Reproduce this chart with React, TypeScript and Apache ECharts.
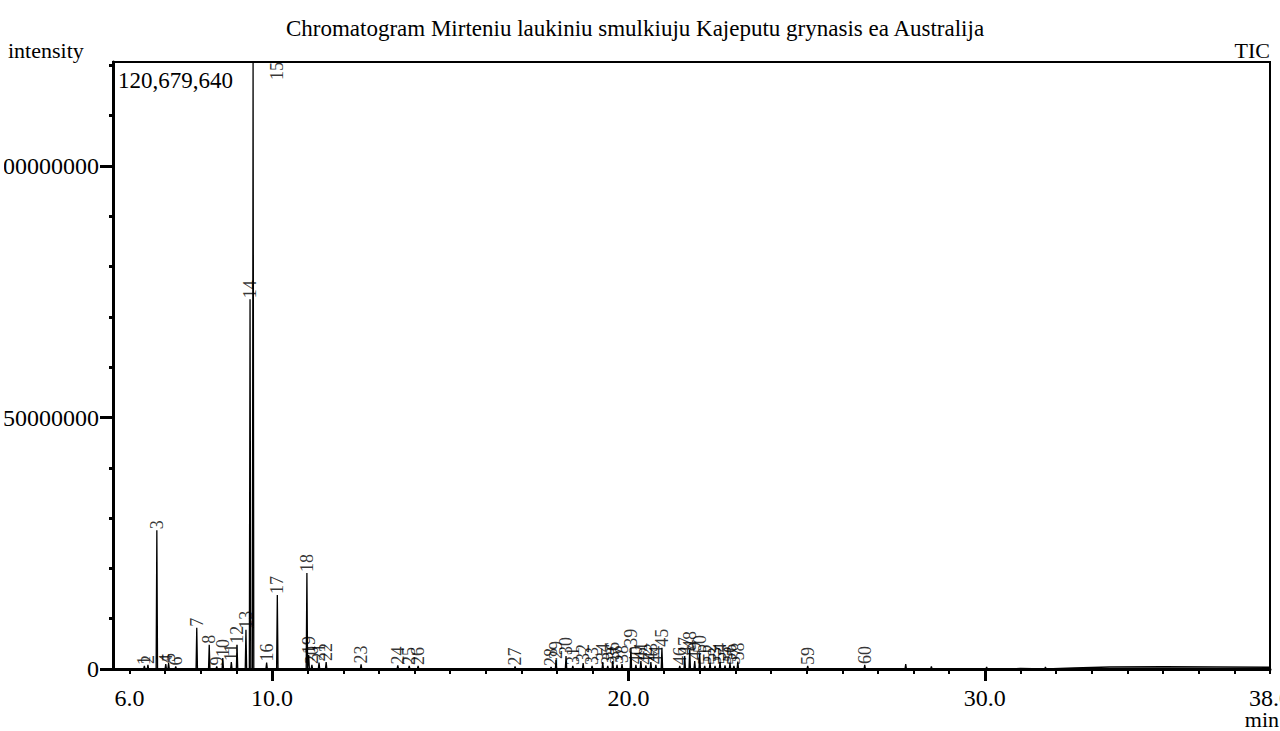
import React, { useEffect, useRef } from "react";
import * as echarts from "echarts";

// ---- data ----
const peakNumbers = [
  1, 2, 3, 4, 5, 6, 7, 8, 9, 10, 11, 12, 13, 14, 15, 16, 17, 18, 19, 20,
  21, 22, 23, 24, 25, 26, 27, 28, 29, 30, 31, 32, 33, 34, 35, 36, 37, 38, 39, 40,
  41, 42, 43, 44, 45, 46, 47, 48, 49, 50, 51, 52, 53, 54, 55, 56, 57, 58, 59, 60,
];
const peakTimes = [
  6.42, 6.52, 6.77, 7.02, 7.1, 7.3, 7.89, 8.24, 8.45, 8.62, 8.86, 9.02, 9.27, 9.385, 9.47, 9.85, 10.15, 10.98, 11.03, 11.12,
  11.32, 11.52, 12.5, 13.53, 13.85, 14.1, 16.82, 17.83, 17.97, 18.25, 18.44, 18.73, 18.98, 19.28, 19.42, 19.56, 19.68, 19.82, 20.07, 20.21,
  20.35, 20.49, 20.63, 20.77, 20.94, 21.44, 21.58, 21.72, 21.86, 22.0, 22.14, 22.29, 22.43, 22.57, 22.71, 22.85, 22.96, 23.07, 25.03, 26.63,
];
const peakHeights = [
  600000, 800000, 27600000, 1000000, 1200000, 500000, 8200000, 4800000, 500000, 2200000,
  1400000, 4800000, 7800000, 73500000, 120679640, 1300000, 14700000, 19100000, 2800000, 800000,
  1300000, 1400000, 900000, 700000, 600000, 600000, 500000, 400000, 1800000, 2600000,
  600000, 1200000, 600000, 1400000, 600000, 1600000, 800000, 1000000, 4200000, 800000,
  1600000, 700000, 1400000, 800000, 4200000, 600000, 2600000, 3800000, 1600000, 3000000,
  600000, 1200000, 600000, 1400000, 700000, 1200000, 600000, 1500000, 600000, 800000,
];
const smallPeakTimes = [27.78, 28.5, 30.05, 31.7];
const smallPeakHeights = [1000000, 500000, 400000, 400000];
const driftTimes = [31.0, 32.5, 33.5, 35.0, 36.5, 38.0];
const driftHeights = [100000, 200000, 400000, 450000, 400000, 350000];

const maxIntensity = 120679640;
const xMin = 5.54;
const xMax = 38.0;
const xLabelValues = [6, 10, 20, 30, 38];
const xMajorTicks = [10, 20, 30];
const xMinorTicks = [
  6, 7, 8, 9, 10, 11, 12, 13, 14, 15, 16, 17, 18, 19, 20, 21, 22,
  23, 24, 25, 26, 27, 28, 29, 30, 31, 32, 33, 34, 35, 36, 37, 38,
];
const yLabelValues = [0, 50000000, 100000000];
const yMinorTicks = [
  0, 10000000, 20000000, 30000000, 40000000, 50000000, 60000000,
  70000000, 80000000, 90000000, 100000000, 110000000, 120000000,
];

const titleText = "Chromatogram Mirteniu laukiniu smulkiuju Kajeputu grynasis ea Australija";
const FONT = "'Liberation Serif', 'Times New Roman', serif";

export default function App() {
  const ref = useRef<HTMLDivElement>(null);
  useEffect(() => {
    document.body.style.margin = "0";
    if (!ref.current) return;
    const chart = echarts.init(ref.current, undefined, { renderer: "svg" });

    const HALF = 0.02;
    const pts: [number, number][] = [[xMin, 0]];
    peakTimes.forEach((t, i) => {
      pts.push([t - HALF, 0], [t, peakHeights[i]], [t + HALF, 0]);
    });
    smallPeakTimes.forEach((t, i) => {
      pts.push([t - HALF, 0], [t, smallPeakHeights[i]], [t + HALF, 0]);
    });
    driftTimes.forEach((t, i) => pts.push([t, driftHeights[i]]));
    pts.sort((a, b) => a[0] - b[0]);

    const labelData = peakTimes.map((t, i) => {
      const item: any = { name: String(peakNumbers[i]), value: [t, peakHeights[i]] };
      if (peakNumbers[i] === 15) {
        item.label = { offset: [-19, 24] };
      }
      return item;
    });

    chart.setOption({
      animation: false,
      backgroundColor: "#fff",
      textStyle: { fontFamily: FONT, color: "#000" },
      grid: {
        left: 109,
        right: 10,
        top: 62,
        bottom: 62,
        outerBoundsMode: "none",
        containLabel: false,
        show: true,
        borderColor: "#000",
        borderWidth: 2,
        backgroundColor: "transparent",
      },
      xAxis: [
        {
          type: "value",
          min: xMin,
          max: xMax,
          position: "bottom",
          axisLine: { show: true, lineStyle: { color: "#000", width: 3 } },
          axisTick: { show: true, length: 5, customValues: xMinorTicks, lineStyle: { color: "#000", width: 2 } },
          axisLabel: {
            show: true,
            customValues: xLabelValues,
            formatter: (v: number) => v.toFixed(1),
            fontFamily: FONT,
            fontSize: 24,
            color: "#000",
            margin: 17,
          },
          splitLine: { show: false },
        },
        {
          type: "value",
          min: xMin,
          max: xMax,
          position: "bottom",
          offset: 0,
          axisLine: { show: false },
          axisTick: { show: true, length: 12, customValues: xMajorTicks, lineStyle: { color: "#000", width: 3 } },
          axisLabel: { show: false },
          splitLine: { show: false },
        },
      ],
      yAxis: [
        {
          type: "value",
          min: 0,
          max: maxIntensity,
          position: "left",
          axisLine: { show: true, lineStyle: { color: "#000", width: 3 } },
          axisTick: { show: true, length: 13, customValues: yLabelValues, lineStyle: { color: "#000", width: 3 } },
          axisLabel: {
            show: true,
            customValues: yLabelValues,
            formatter: (v: number) => String(v),
            fontFamily: FONT,
            fontSize: 24,
            color: "#000",
            margin: 14,
          },
          splitLine: { show: false },
        },
        {
          type: "value",
          min: 0,
          max: maxIntensity,
          position: "left",
          offset: 0,
          axisLine: { show: false },
          axisTick: { show: true, length: 4, customValues: yMinorTicks, lineStyle: { color: "#000", width: 3 } },
          axisLabel: { show: false },
          splitLine: { show: false },
        },
      ],
      series: [
        {
          type: "line",
          xAxisIndex: 0,
          yAxisIndex: 0,
          data: pts,
          showSymbol: false,
          symbol: "none",
          lineStyle: { color: "#000", width: 1.3 },
          z: 3,
        },
        {
          type: "scatter",
          xAxisIndex: 0,
          yAxisIndex: 0,
          data: labelData,
          symbolSize: 0,
          itemStyle: { color: "transparent" },
          label: {
            show: true,
            formatter: (p: any) => p.name,
            position: "top",
            distance: 1,
            rotate: 90,
            align: "left",
            verticalAlign: "middle",
            fontFamily: FONT,
            fontSize: 18,
            color: "#000",
          },
          z: 4,
        },
      ],
      graphic: [
        {
          type: "text",
          x: 631,
          y: 28,
          style: {
            text: titleText,
            fontFamily: FONT,
            fontSize: 23,
            fill: "#000",
            textAlign: "center",
            textVerticalAlign: "middle",
          },
        },
        {
          type: "text",
          x: 4,
          y: 50,
          style: { text: "intensity", fontFamily: FONT, fontSize: 22, fill: "#000", textVerticalAlign: "middle" },
        },
        {
          type: "text",
          x: 1266,
          y: 50,
          style: { text: "TIC", fontFamily: FONT, fontSize: 22, fill: "#000", textAlign: "right", textVerticalAlign: "middle" },
        },
        {
          type: "text",
          x: 114,
          y: 80,
          style: { text: "120,679,640", fontFamily: FONT, fontSize: 23, fill: "#000", textVerticalAlign: "middle" },
        },
        {
          type: "text",
          x: 1275,
          y: 719,
          style: { text: "min", fontFamily: FONT, fontSize: 22, fill: "#000", textAlign: "right", textVerticalAlign: "middle" },
        },
      ],
    });
    return () => chart.dispose();
  }, []);
  return (
    <div
      ref={ref}
      style={{ position: "absolute", left: 4, top: 0, width: 1276, height: 731 }}
    />
  );
}
